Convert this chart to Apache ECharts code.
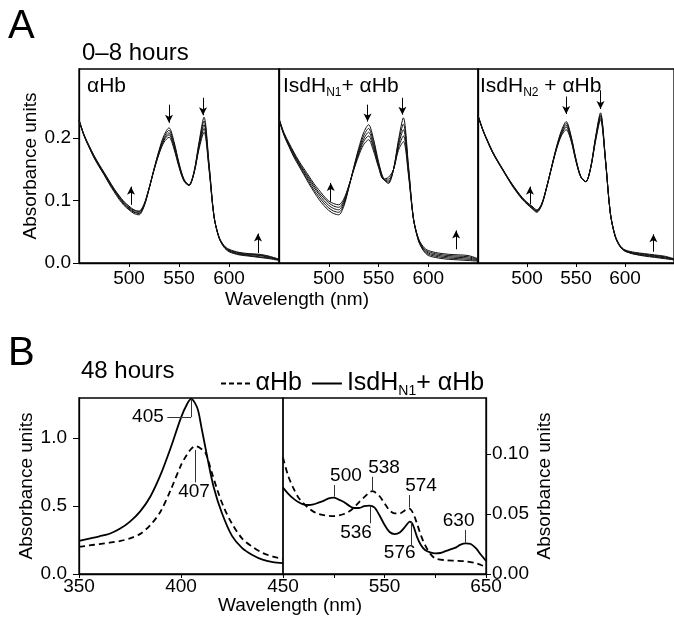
<!DOCTYPE html>
<html><head><meta charset="utf-8">
<script src="https://cdn.jsdelivr.net/npm/echarts@6/dist/echarts.min.js"></script>
<style>html,body{margin:0;padding:0;background:#fff}#c{width:674px;height:618px}</style>
</head><body><div id="c"></div>
<script>
// ---------- Panel A (0–8 hours) ----------
const wlA = [450,455,460,465,470,475,480,485,490,495,500,505,510,515,520,525,530,535,540,545,550,555,560,565,570,575,580,585,590,595,600,610,620,630,640,650];
const xTicksA = [500, 550, 600];
const yTicksA = [0, 0.1, 0.2];

// αHb alone, traces 0 h → 8 h
const aHb_t0 = [.228,.203,.185,.168,.154,.141,.127,.114,.102,.092,.085,.079,.077,.090,.118,.150,.180,.204,.216,.194,.160,.134,.125,.146,.193,.233,.160,.075,.040,.025,.018,.013,.011,.009,.007,.004];
const aHb_t1 = [.228,.204,.186,.169,.155,.142,.128,.116,.104,.094,.086,.081,.079,.091,.118,.150,.178,.201,.212,.191,.158,.133,.125,.145,.190,.227,.157,.075,.040,.026,.019,.014,.012,.010,.008,.005];
const aHb_t2 = [.228,.204,.186,.170,.156,.143,.129,.117,.105,.095,.088,.082,.080,.092,.119,.149,.177,.198,.208,.188,.156,.132,.124,.144,.187,.221,.155,.074,.041,.027,.020,.015,.013,.012,.009,.005];
const aHb_t3 = [.229,.205,.187,.171,.157,.144,.131,.118,.107,.097,.089,.084,.082,.093,.119,.149,.175,.196,.205,.185,.155,.131,.124,.144,.185,.215,.152,.074,.041,.027,.021,.016,.014,.013,.010,.006];
const aHb_t4 = [.229,.205,.188,.172,.158,.145,.132,.119,.108,.098,.091,.085,.083,.094,.119,.148,.174,.193,.201,.182,.153,.131,.124,.143,.182,.209,.150,.074,.042,.028,.022,.017,.015,.014,.011,.006];

// IsdH_N1 + αHb
const n1_t0 = [.229,.204,.186,.169,.155,.141,.127,.114,.102,.092,.084,.079,.077,.090,.119,.152,.183,.208,.221,.198,.162,.135,.127,.149,.196,.232,.158,.072,.036,.020,.012,.008,.006,.005,.004,.003];
const n1_t1 = [.229,.205,.187,.171,.157,.143,.130,.117,.106,.096,.088,.083,.081,.093,.120,.151,.180,.203,.215,.193,.159,.134,.129,.149,.192,.222,.154,.072,.037,.021,.014,.010,.008,.007,.006,.004];
const n1_t2 = [.230,.206,.189,.173,.159,.146,.133,.121,.110,.100,.092,.087,.085,.096,.121,.150,.177,.198,.209,.188,.157,.134,.131,.149,.188,.213,.150,.072,.038,.023,.016,.012,.010,.009,.008,.005];
const n1_t3 = [.230,.207,.190,.175,.161,.148,.136,.124,.113,.104,.096,.091,.089,.099,.122,.149,.174,.194,.203,.184,.155,.134,.134,.149,.184,.203,.146,.072,.039,.024,.018,.014,.012,.011,.010,.006];
const n1_t4 = [.231,.208,.192,.177,.163,.151,.139,.127,.117,.107,.099,.095,.093,.102,.123,.148,.171,.189,.197,.179,.153,.134,.137,.149,.180,.194,.142,.072,.040,.026,.020,.016,.014,.013,.012,.007];

// IsdH_N2 + αHb
const n2_t0 = [.235,.212,.193,.176,.162,.149,.136,.123,.112,.102,.094,.087,.081,.092,.120,.153,.185,.211,.226,.203,.166,.138,.130,.153,.202,.240,.168,.080,.042,.026,.019,.014,.011,.009,.007,.005];
const n2_t1 = [.235,.212,.193,.176,.162,.149,.136,.124,.113,.103,.095,.088,.082,.093,.120,.153,.184,.209,.223,.201,.165,.138,.130,.153,.200,.237,.167,.080,.042,.026,.019,.014,.012,.010,.008,.005];
const n2_t2 = [.235,.212,.194,.177,.163,.150,.137,.125,.114,.104,.096,.089,.083,.094,.121,.152,.183,.207,.220,.199,.164,.137,.130,.152,.199,.235,.166,.080,.043,.027,.020,.015,.013,.011,.009,.006];
const n2_t3 = [.236,.213,.194,.177,.163,.150,.137,.125,.114,.104,.096,.090,.084,.094,.121,.152,.182,.205,.217,.197,.163,.137,.130,.152,.197,.232,.165,.080,.043,.027,.020,.016,.014,.012,.010,.006];
const n2_t4 = [.236,.213,.195,.178,.164,.151,.138,.126,.115,.105,.097,.091,.085,.095,.121,.152,.181,.203,.213,.195,.162,.137,.130,.152,.195,.229,.164,.080,.044,.028,.021,.017,.015,.013,.011,.007];

// arrows: [wavelength, from, to]
const arrowsA1 = [[502,0.093,0.122],[540,0.253,0.224],[574,0.264,0.236],[629,0.016,0.047]];
const arrowsA2 = [[502,0.098,0.128],[539,0.253,0.226],[574,0.264,0.237],[628,0.022,0.052]];
const arrowsA3 = [[503,0.094,0.122],[540,0.266,0.238],[575,0.276,0.246],[629,0.018,0.046]];

// ---------- Panel B (48 hours) ----------
const wlB1 = [350,355,360,365,370,375,380,385,390,395,400,403,405,408,410,413,416,420,425,430,435,440,445,450];
const bSolidL = [0.243,0.260,0.277,0.296,0.332,0.385,0.460,0.570,0.730,0.930,1.150,1.250,1.287,1.220,1.080,0.850,0.640,0.450,0.280,0.190,0.140,0.105,0.088,0.080];
const wlB1d = [350,355,360,365,370,375,380,385,390,395,400,403,405,407,409,412,415,418,421,425,430,435,440,445,450];
const bDashL = [0.200,0.210,0.220,0.230,0.242,0.262,0.295,0.360,0.460,0.620,0.800,0.880,0.920,0.940,0.930,0.890,0.750,0.610,0.490,0.370,0.260,0.200,0.155,0.128,0.110];

const wlB2 = [450,455,460,465,470,475,480,485,490,495,500,505,510,515,520,525,530,535,540,545,550,555,560,565,570,575,578,582,586,590,595,600,605,610,615,620,625,630,635,640,645,650];
const bSolidR = [0.072,0.067,0.063,0.060,0.058,0.0575,0.058,0.0595,0.061,0.063,0.0636,0.062,0.060,0.057,0.055,0.055,0.0565,0.057,0.0555,0.049,0.041,0.035,0.0333,0.0345,0.039,0.0436,0.041,0.031,0.024,0.020,0.018,0.0172,0.0175,0.019,0.0205,0.022,0.0245,0.0256,0.025,0.0215,0.016,0.011];
const wlB2d = [450,455,460,465,470,475,480,485,490,495,500,505,510,515,520,525,530,535,538,540,545,550,555,560,565,570,574,578,582,586,590,595,600,610,620,630,640,645,650];
const bDashR = [0.097,0.082,0.072,0.064,0.059,0.055,0.052,0.050,0.049,0.0485,0.0483,0.0488,0.050,0.052,0.0555,0.060,0.064,0.068,0.069,0.0685,0.065,0.059,0.053,0.0505,0.0505,0.053,0.0547,0.051,0.042,0.032,0.024,0.017,0.013,0.0115,0.011,0.0105,0.009,0.0075,0.006];

// peak annotations: leader lines [x, y1, y2] and texts [x, y, text]
const leadSolidL = [[405,1.287,1.154]];
const leadSolidLh = [[405,393.3,1.154]];
const leadDashL = [[407,0.912,0.674]];
const textsL = [[383.8,1.154,'405'],[406.4,0.607,'407']];
const leadSolidR = [[500,0.0645,0.0742],[536,0.0560,0.0423],[576,0.0436,0.0242],[630,0.0262,0.0367]];
const leadDashR = [[538.4,0.0695,0.081],[574,0.0555,0.0658]];
const textsR = [[512,0.082,'500'],[549.5,0.0888,'538'],[586,0.0733,'574'],[522,0.0342,'536'],[565,0.0179,'576'],[623,0.0442,'630']];

const NAME_AHB = 'αHb';
const NAME_N1 = 'IsdH_N1+ αHb';

// ---------- build ----------
const FONT = '"Liberation Sans", Arial, Helvetica, sans-serif';
const chart = echarts.init(document.getElementById('c'), null, {renderer: 'canvas'});
const pair = (xs, ys) => xs.map((x, i) => [x, ys[i]]);

const gridsA = [{left: 79, width: 200}, {left: 279, width: 199}, {left: 478, width: 200}];
const grid = gridsA.map(g => ({left: g.left, width: g.width, top: 69, height: 194, show: true, borderColor: '#000', borderWidth: 1.3}))
  .concat([
    {left: 79, width: 204, top: 398, height: 176, show: true, borderColor: '#000', borderWidth: 1.3},
    {left: 283, width: 203, top: 398, height: 176, show: true, borderColor: '#000', borderWidth: 1.3}
  ]);

const axisLineStyle = {show: true, lineStyle: {color: '#000', width: 1.3}};
const labelStyle = {color: '#000', fontSize: 19, fontFamily: FONT};
const nameStyle = {color: '#000', fontSize: 19, fontFamily: FONT};

const xAxis = [0, 1, 2].map(i => ({
  type: 'value', gridIndex: i, min: 450, max: 650, interval: 50,
  axisLine: axisLineStyle, splitLine: {show: false},
  axisTick: {show: true, length: 4, lineStyle: {color: '#000'}, customValues: xTicksA},
  axisLabel: Object.assign({margin: 6, customValues: xTicksA}, labelStyle)
})).concat([
  {type: 'value', gridIndex: 3, min: 350, max: 450, interval: 50,
   axisLine: axisLineStyle, splitLine: {show: false},
   axisTick: {show: true, length: 4, lineStyle: {color: '#000'}},
   axisLabel: Object.assign({margin: 3}, labelStyle)},
  {type: 'value', gridIndex: 4, min: 450, max: 650, interval: 50,
   axisLine: axisLineStyle, splitLine: {show: false},
   axisTick: {show: true, length: 4, lineStyle: {color: '#000'}},
   axisLabel: Object.assign({margin: 3, customValues: [550, 650]}, labelStyle)}
]);

const yAxis = [0, 1, 2].map(i => ({
  type: 'value', gridIndex: i, min: 0, max: 0.31,
  axisLine: axisLineStyle, splitLine: {show: false},
  axisTick: {show: i === 0, length: 6, lineStyle: {color: '#000'}, customValues: yTicksA},
  axisLabel: Object.assign({show: i === 0, margin: 8, customValues: yTicksA, formatter: v => v.toFixed(1)}, labelStyle),
  name: i === 0 ? 'Absorbance units' : '', nameLocation: 'middle', nameGap: 35, nameRotate: 90,
  nameTextStyle: nameStyle
})).concat([
  {type: 'value', gridIndex: 3, min: 0, max: 1.294,
   axisLine: axisLineStyle, splitLine: {show: false},
   axisTick: {show: true, length: 6, lineStyle: {color: '#000'}, customValues: [0, 0.5, 1.0]},
   axisLabel: Object.assign({margin: 12, customValues: [0, 0.5, 1.0], formatter: v => v.toFixed(1)}, labelStyle),
   name: 'Absorbance units', nameLocation: 'middle', nameGap: 35, nameRotate: 90,
   nameTextStyle: nameStyle},
  {type: 'value', gridIndex: 4, position: 'right', min: 0, max: 0.1467,
   axisLine: axisLineStyle, splitLine: {show: false},
   axisTick: {show: true, length: 5, lineStyle: {color: '#000'}, customValues: [0, 0.05, 0.10]},
   axisLabel: Object.assign({margin: 6, customValues: [0, 0.05, 0.10], formatter: v => v.toFixed(2)}, labelStyle),
   name: 'Absorbance units', nameLocation: 'middle', nameGap: 49, nameRotate: 90,
   nameTextStyle: nameStyle}
]);

const series = [];
const arrowML = arr => ({
  silent: true, symbol: ['none', 'arrow'], symbolSize: [6, 8],
  lineStyle: {color: '#000', width: 1, type: 'solid'}, label: {show: false},
  data: arr.map(a => [{coord: [a[0], a[1]]}, {coord: [a[0], a[2]]}])
});
const setsA = [[aHb_t0, aHb_t1, aHb_t2, aHb_t3, aHb_t4], [n1_t0, n1_t1, n1_t2, n1_t3, n1_t4], [n2_t0, n2_t1, n2_t2, n2_t3, n2_t4]];
const arrowsA = [arrowsA1, arrowsA2, arrowsA3];
setsA.forEach((traces, g) => {
  traces.forEach((ys, k) => {
    const s = {
      type: 'line', name: 'A' + (g + 1) + '_t' + k, xAxisIndex: g, yAxisIndex: g,
      data: pair(wlA, ys), symbol: 'none', smooth: 0.3,
      lineStyle: {color: '#111', width: 1}
    };
    if (k === 0) s.markLine = arrowML(arrowsA[g]);
    series.push(s);
  });
});

const leadML = (vert, horiz) => ({
  silent: true, symbol: ['none', 'none'],
  lineStyle: {color: '#333', width: 1, type: 'solid'}, label: {show: false},
  data: vert.map(a => [{coord: [a[0], a[1]]}, {coord: [a[0], a[2]]}])
    .concat((horiz || []).map(h => [{coord: [h[0], h[2]]}, {coord: [h[1], h[2]]}]))
});

series.push({type: 'line', name: NAME_N1, xAxisIndex: 3, yAxisIndex: 3, data: pair(wlB1, bSolidL), symbol: 'none', smooth: 0.3,
  lineStyle: {color: '#000', width: 1.8}, itemStyle: {color: '#000'}, markLine: leadML(leadSolidL, leadSolidLh)});
series.push({type: 'line', name: NAME_AHB, xAxisIndex: 3, yAxisIndex: 3, data: pair(wlB1d, bDashL), symbol: 'none', smooth: 0.3,
  lineStyle: {color: '#000', width: 1.8, type: [6, 4]}, itemStyle: {color: '#000'}, markLine: leadML(leadDashL)});
series.push({type: 'line', name: NAME_N1, xAxisIndex: 4, yAxisIndex: 4, data: pair(wlB2, bSolidR), symbol: 'none', smooth: 0.3,
  lineStyle: {color: '#000', width: 1.8}, itemStyle: {color: '#000'}, markLine: leadML(leadSolidR)});
series.push({type: 'line', name: NAME_AHB, xAxisIndex: 4, yAxisIndex: 4, data: pair(wlB2d, bDashR), symbol: 'none', smooth: 0.3,
  lineStyle: {color: '#000', width: 1.8, type: [6, 4]}, itemStyle: {color: '#000'}, markLine: leadML(leadDashR)});

const textSeries = (xi, arr) => ({
  type: 'scatter', name: 'labels' + xi, xAxisIndex: xi, yAxisIndex: xi, symbolSize: 0, silent: true,
  itemStyle: {color: '#000', opacity: 1},
  data: arr.map(t => ({value: [t[0], t[1]], label: {formatter: t[2]}})),
  label: {show: true, position: 'inside', color: '#000', opacity: 1, fontSize: 19, fontFamily: FONT, textBorderWidth: 0, textBorderColor: 'transparent'}
});
series.push(textSeries(3, textsL));
series.push(textSeries(4, textsR));

const richSub = (main, lh, sublh) => ({
  n: {fontSize: main, lineHeight: lh, fontFamily: FONT, color: '#000'},
  s: {fontSize: Math.round(main * 0.55), lineHeight: sublh, verticalAlign: 'bottom', fontFamily: FONT, color: '#000'}
});

const txt = (x, y, text, size, extra) => ({
  type: 'text', x: x, y: y, silent: true,
  style: Object.assign({text: text, fill: '#000', font: size + 'px ' + FONT, textVerticalAlign: 'middle', verticalAlign: 'middle'}, extra || {})
});

const graphic = [
  txt(8, 27, 'A', 40),
  txt(82, 53, '0–8 hours', 24),
  txt(87, 86, 'αHb', 21),
  {type: 'text', x: 283, y: 86, silent: true, style: {text: '{n|IsdH}{s|N1}{n|+ αHb}', rich: richSub(21, 26, 6), verticalAlign: 'middle', textVerticalAlign: 'middle'}},
  {type: 'text', x: 480, y: 86, silent: true, style: {text: '{n|IsdH}{s|N2}{n| + αHb}', rich: richSub(21, 26, 6), verticalAlign: 'middle', textVerticalAlign: 'middle'}},
  txt(297, 300, 'Wavelength (nm)', 19, {textAlign: 'center', align: 'center'}),
  txt(8, 354, 'B', 40),
  txt(81, 371, '48 hours', 24),
  txt(290, 606, 'Wavelength (nm)', 19, {textAlign: 'center', align: 'center'})
];

const ICON_SOLID = 'path://M0,0H30V2H0Z';
const ICON_DASH = 'path://M0,0H5V2H0Z M8,0H13V2H8Z M16,0H21V2H16Z M24,0H29V2H24Z';

chart.setOption({
  animation: false,
  backgroundColor: '#fff',
  textStyle: {fontFamily: FONT},
  grid: grid, xAxis: xAxis, yAxis: yAxis, series: series, graphic: graphic,
  legend: {
    data: [{name: NAME_AHB, icon: ICON_DASH}, {name: NAME_N1, icon: ICON_SOLID}],
    left: 216, top: 366, itemWidth: 30, itemHeight: 2, itemGap: 10,
    selectedMode: false,
    textStyle: {color: '#000', fontSize: 25, fontFamily: FONT, rich: richSub(25, 30, 4)},
    formatter: name => name === NAME_N1 ? '{n|IsdH}{s|N1}{n|+ αHb}' : '{n|αHb}'
  }
});
</script></body></html>
